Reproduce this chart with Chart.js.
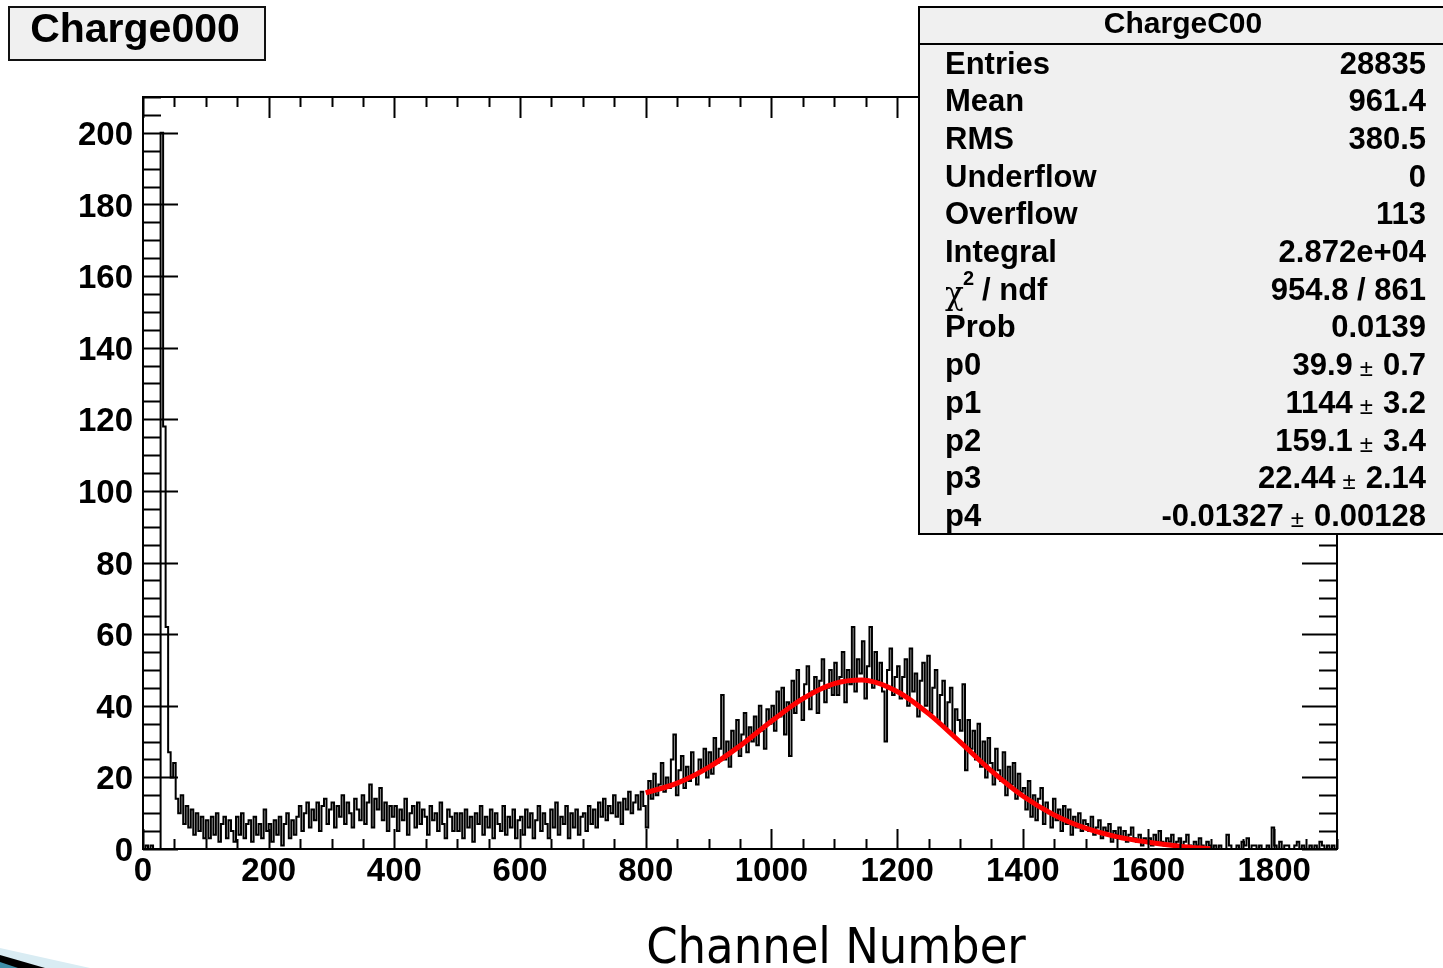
<!DOCTYPE html>
<html>
<head>
<meta charset="utf-8">
<title>Charge000</title>
<script src="https://cdn.jsdelivr.net/npm/chart.js@4.4.1/dist/chart.umd.min.js"></script>
<style>
  html, body { margin: 0; padding: 0; background: #fff; }
  #wrap { width: 1443px; height: 968px; }
</style>
</head>
<body>
<div id="wrap"><canvas id="chargeChart" width="1443" height="968"></canvas></div>
<script>
// histogram, one value per 4 channels (starting at channel 0)
const binWidth = 4;
const xMax = 1900;
const yMax = 210;
const histCounts = [
  0,1,0,1,0,0,0,200,118,62,27,20,24,14,10,15,7,12,6,11,4,10,5,9,3,
  8,3,9,4,10,2,7,9,3,8,5,2,9,4,10,3,7,8,2,9,4,7,3,11,5,
  7,2,8,4,9,1,7,10,3,8,4,9,12,5,10,13,6,11,8,13,5,12,14,7,11,
  13,6,12,9,15,7,13,10,6,14,11,8,15,7,13,18,6,14,11,17,8,13,5,12,9,
  12,5,11,8,14,4,10,12,6,13,7,11,9,4,12,8,10,5,13,7,3,11,9,5,10,
  5,10,3,11,6,9,2,10,7,12,4,9,6,11,3,10,7,5,12,4,9,6,11,3,8,
  9,4,11,6,10,3,8,12,5,10,7,3,11,6,13,4,9,7,12,3,10,6,11,4,9,
  10,5,12,7,11,6,13,9,14,8,12,10,15,9,13,7,14,11,16,10,13,15,11,16,12,
  6,19,14,21,15,18,24,16,20,17,25,32,15,22,26,17,23,19,27,21,18,25,22,28,20,
  27,21,31,24,28,43,25,30,23,33,28,36,26,32,38,27,34,30,37,29,40,33,28,39,35,
  40,33,44,37,45,32,41,26,47,38,50,42,36,46,51,39,44,48,38,47,53,41,45,50,43,
  52,43,48,55,41,50,46,62,44,53,49,58,42,51,62,45,55,47,52,44,30,50,56,43,48,
  51,42,48,53,40,56,44,49,37,47,52,40,54,38,45,50,36,43,47,34,41,45,32,39,36,
  33,46,22,36,28,33,25,35,23,30,20,31,24,18,28,22,19,27,15,23,18,24,14,21,16,
  17,11,19,9,15,8,14,17,7,13,10,6,14,8,11,5,12,7,11,4,9,6,10,5,8,
  7,5,9,4,6,8,3,6,5,7,2,5,4,6,3,5,2,4,6,3,2,4,1,3,2,
  3,1,4,2,5,2,1,3,2,4,1,2,3,1,2,4,1,0,2,1,3,1,0,2,1,
  0,1,0,1,0,0,4,1,0,0,1,0,2,1,3,0,1,1,0,1,0,0,1,0,6,
  1,0,2,0,1,1,0,0,1,2,0,1,0,0,1,0,1,0,2,1,0,1,0,1,0
];

// red fit curve (800 - 1700)
const fitChannels = [800, 850, 900, 950, 1000, 1050, 1100, 1144, 1200, 1250, 1300, 1350, 1400, 1450, 1500, 1550, 1600, 1650, 1700];
const fitValues   = [15.7, 18.4, 22.8, 28.8, 35.7, 42.0, 46.2, 47.2, 44.0, 37.8, 29.9, 21.8, 14.8, 9.5, 5.8, 3.4, 1.9, 0.8, 0.0];

const xTickLabels = [0, 200, 400, 600, 800, 1000, 1200, 1400, 1600, 1800];
const yTickLabels = [0, 20, 40, 60, 80, 100, 120, 140, 160, 180, 200];

const histTitle = 'Charge000';
const statsTitle = 'ChargeC00';
const statsNames = ['Entries', 'Mean', 'RMS', 'Underflow', 'Overflow', 'Integral', 'chi2', 'Prob'];
const statsValues = ['28835', '961.4', '380.5', '0', '113', '2.872e+04', '954.8 / 861', '0.0139'];
const paramNames = ['p0', 'p1', 'p2', 'p3', 'p4'];
const paramValues = ['39.9', '1144', '159.1', '22.44', '-0.01327'];
const paramErrors = ['0.7', '3.2', '3.4', '2.14', '0.00128'];
const axisTitle = 'Channel Number';

const FONT = '"Liberation Sans", Arial, Helvetica, sans-serif';

const histPoints = histCounts.map((v, i) => ({ x: i * binWidth, y: v }));
histPoints.push({ x: xMax, y: histCounts[histCounts.length - 1] });
const fitPoints = fitChannels.map((c, i) => ({ x: c, y: fitValues[i] }));

const rootDecor = {
  id: 'rootDecor',
  afterDraw(chart) {
    const ctx = chart.ctx;
    const area = chart.chartArea;
    const xs = chart.scales.x, ys = chart.scales.y;
    ctx.save();
    ctx.strokeStyle = '#000';
    ctx.lineWidth = 2;

    // tick marks on all four sides, pointing inwards
    ctx.beginPath();
    for (let v = 0; v <= xMax; v += 50) {
      const px = Math.round(xs.getPixelForValue(v)) + 0.5;
      const major = v % 200 === 0;
      ctx.moveTo(px, area.bottom); ctx.lineTo(px, area.bottom - (major ? 20 : 10));
      ctx.moveTo(px, area.top); ctx.lineTo(px, area.top + (major ? 21 : 10));
    }
    for (let v = 0; v <= yMax; v += 5) {
      const py = Math.round(ys.getPixelForValue(v)) + 0.5;
      const major = v % 20 === 0;
      ctx.moveTo(area.left, py); ctx.lineTo(area.left + (major ? 35 : 18), py);
      ctx.moveTo(area.right, py); ctx.lineTo(area.right - (major ? 35 : 18), py);
    }
    ctx.stroke();
    ctx.strokeRect(area.left, area.top, area.right - area.left, area.bottom - area.top);

    // title box
    ctx.fillStyle = '#f0f0f0';
    ctx.fillRect(9, 7, 256, 53);
    ctx.strokeStyle = '#111';
    ctx.strokeRect(9, 7, 256, 53);
    ctx.fillStyle = '#000';
    ctx.font = 'bold 41px ' + FONT;
    ctx.textAlign = 'center';
    ctx.textBaseline = 'middle';
    ctx.fillText(histTitle, 135, 31);

    // stats box
    const bx = 919, by = 7, bw = 540, bh = 527;
    ctx.fillStyle = '#f0f0f0';
    ctx.fillRect(bx, by, bw, bh);
    ctx.strokeStyle = '#000';
    ctx.strokeRect(bx, by, bw, bh);
    ctx.beginPath();
    ctx.moveTo(bx, 44); ctx.lineTo(1443, 44);
    ctx.stroke();
    ctx.fillStyle = '#000';
    ctx.font = 'bold 30px ' + FONT;
    ctx.textAlign = 'center';
    ctx.fillText(statsTitle, 1183, 25);

    const left = 945, right = 1426, row0 = 65, step = 37.7;
    ctx.font = 'bold 31px ' + FONT;
    statsNames.forEach((name, i) => {
      const y = row0 + i * step;
      ctx.textAlign = 'left';
      if (name === 'chi2') {
        ctx.font = '31px "DejaVu Serif", serif';
        ctx.fillText('\u03c7', left, y + 5);
        ctx.font = 'bold 20px ' + FONT;
        ctx.fillText('2', 963, y - 12);
        ctx.font = 'bold 31px ' + FONT;
        ctx.fillText('/ ndf', 982, y);
      } else {
        ctx.fillText(name, left, y);
      }
      ctx.textAlign = 'right';
      ctx.fillText(statsValues[i], right, y);
    });
    paramNames.forEach((name, i) => {
      const y = row0 + (statsNames.length + i) * step;
      ctx.font = 'bold 31px ' + FONT;
      ctx.textAlign = 'left';
      ctx.fillText(name, left, y);
      ctx.textAlign = 'right';
      ctx.fillText(paramErrors[i], right, y);
      let x = right - ctx.measureText(paramErrors[i]).width - 10;
      ctx.font = '24px ' + FONT;
      ctx.fillText('\u00b1', x, y + 3);
      x -= ctx.measureText('\u00b1').width + 7;
      ctx.font = 'bold 31px ' + FONT;
      ctx.fillText(paramValues[i], x, y);
    });

    // x axis title
    ctx.font = '50px "DejaVu Sans Condensed", "DejaVu Sans", sans-serif';
    ctx.textAlign = 'center';
    ctx.textBaseline = 'alphabetic';
    ctx.fillText(axisTitle, 836, 963);

    // slide decoration, bottom-left corner
    ctx.fillStyle = '#d9ecf3';
    ctx.beginPath();
    ctx.moveTo(0, 948); ctx.lineTo(90, 968); ctx.lineTo(0, 968); ctx.closePath();
    ctx.fill();
    ctx.fillStyle = '#000';
    ctx.beginPath();
    ctx.moveTo(0, 955); ctx.lineTo(45, 968); ctx.lineTo(0, 968); ctx.closePath();
    ctx.fill();
    ctx.fillStyle = '#3f8fa8';
    ctx.beginPath();
    ctx.moveTo(0, 962); ctx.lineTo(18, 968); ctx.lineTo(0, 968); ctx.closePath();
    ctx.fill();
    ctx.restore();
  }
};

new Chart(document.getElementById('chargeChart'), {
  type: 'line',
  data: {
    datasets: [
      {
        label: 'fit',
        data: fitPoints,
        borderColor: '#ff0000',
        borderWidth: 5,
        pointRadius: 0,
        cubicInterpolationMode: 'monotone',
        fill: false,
        order: 0
      },
      {
        label: histTitle,
        data: histPoints,
        borderColor: '#000000',
        borderWidth: 2,
        pointRadius: 0,
        stepped: 'before',
        fill: false,
        order: 1
      }
    ]
  },
  options: {
    responsive: false,
    animation: false,
    events: [],
    layout: { padding: { left: 0, right: 106, top: 97, bottom: 0 } },
    plugins: { legend: { display: false }, tooltip: { enabled: false }, title: { display: false } },
    scales: {
      x: {
        type: 'linear',
        min: 0,
        max: xMax,
        afterFit: s => { s.height = 119; },
        afterBuildTicks: s => { s.ticks = xTickLabels.map(v => ({ value: v })); },
        grid: { display: false, drawTicks: false },
        border: { display: false },
        ticks: {
          padding: 3,
          maxRotation: 0,
          autoSkip: false,
          color: '#000',
          font: { family: FONT, size: 33, weight: 'bold' },
          callback: v => String(v)
        }
      },
      y: {
        type: 'linear',
        min: 0,
        max: yMax,
        afterFit: s => { s.width = 143; },
        afterBuildTicks: s => { s.ticks = yTickLabels.map(v => ({ value: v })); },
        grid: { display: false, drawTicks: false },
        border: { display: false },
        ticks: {
          padding: 10,
          labelOffset: 3,
          autoSkip: false,
          color: '#000',
          font: { family: FONT, size: 33, weight: 'bold' },
          callback: v => String(v)
        }
      }
    }
  },
  plugins: [rootDecor]
});
</script>
</body>
</html>
